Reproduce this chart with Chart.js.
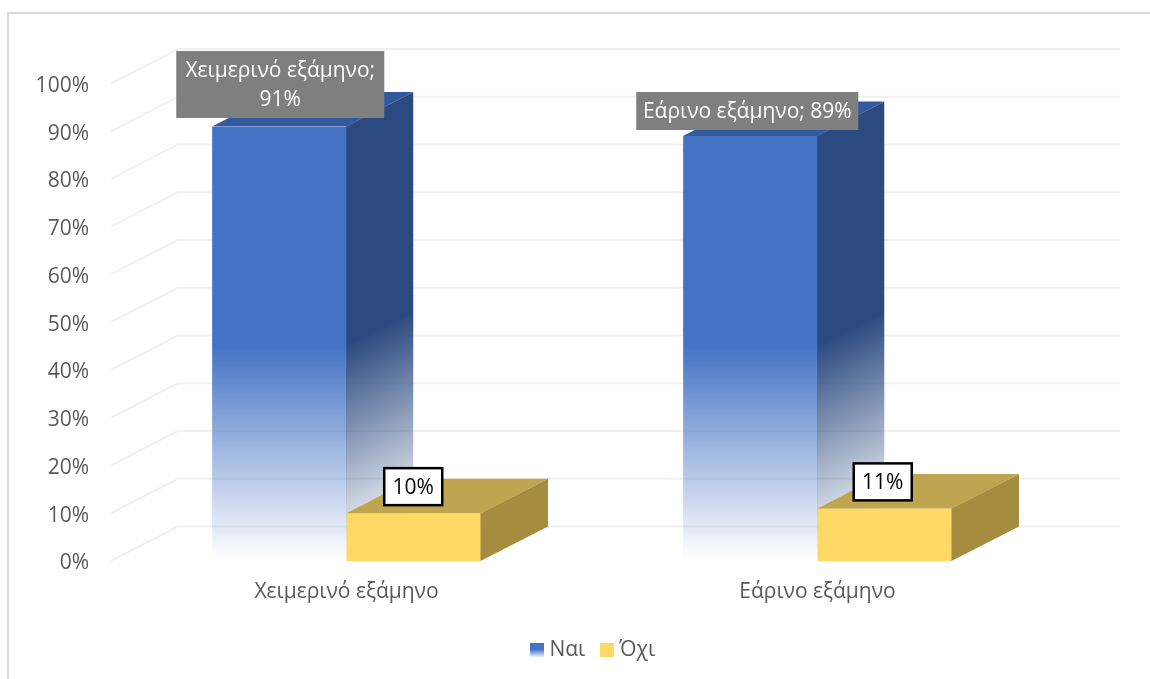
<!DOCTYPE html>
<html><head><meta charset="utf-8">
<style>html,body{margin:0;padding:0;background:#fff;overflow:hidden}canvas{display:block}</style>
<script src="https://cdn.jsdelivr.net/npm/chart.js@4"></script>
</head><body><div style="position:relative;width:1150px;height:679px"><canvas id="c" width="1150" height="679"></canvas></div>
<script>
const categories = ['Χειμερινό εξάμηνο', 'Εάρινο εξάμηνο'];
const seriesNames = ['Ναι', 'Όχι'];
const yesValues = [91, 89];
const noValues = [10, 11];
const yesLabels = [['Χειμερινό εξάμηνο;', '91%'], ['Εάρινο εξάμηνο; 89%']];
const noLabels = ['10%', '11%'];

const FONT = '"Open Sans","Noto Sans",sans-serif';
const DX = 67, DY = 34.5;
const GRID = '#F0F0F0', TEXT = '#595959';

function fade(ctx, r, g1, b, maxA, y0, y1) {
  const g = ctx.createLinearGradient(0, y0, 0, y1);
  g.addColorStop(0, `rgba(${r},${g1},${b},${maxA})`);
  g.addColorStop(1, `rgba(${r},${g1},${b},0)`);
  return g;
}
function box3d(ctx, bar, topColor, sideColor) {
  const l = bar.x - bar.width / 2, r = bar.x + bar.width / 2, t = bar.y, b = bar.base;
  ctx.save();
  ctx.beginPath();
  ctx.moveTo(r - 0.5, t); ctx.lineTo(r + DX, t - DY); ctx.lineTo(r + DX, b - DY); ctx.lineTo(r - 0.5, b); ctx.closePath();
  ctx.clip();
  const k = DY / DX;
  ctx.transform(1, -k, 0, 1, 0, r * k);   // shear so the gradient follows the depth
  ctx.fillStyle = sideColor;
  ctx.fillRect(r - 1, t - 5, DX + 1, b - t + 10);
  ctx.restore();
  ctx.beginPath();
  ctx.moveTo(l, t); ctx.lineTo(r, t); ctx.lineTo(r + DX, t - DY); ctx.lineTo(l + DX, t - DY); ctx.closePath();
  ctx.fillStyle = topColor; ctx.fill();
}

const threeD = {
  id: 'threeD',
  afterLayout(chart) {
    const lg = chart.legend;
    lg.left += 69; lg.right += 69;
    lg.top = 619; lg.bottom = 619 + lg.height;
    // the y labels sit slightly below the tick centre in the reference
    const y = chart.scales.y;
    if (!y._shifted) {
      const orig = y.drawLabels;
      y.drawLabels = function (area) {
        chart.ctx.save(); chart.ctx.translate(0, 2.5);
        orig.call(this, area);
        chart.ctx.restore();
      };
      y._shifted = true;
    }
  },
  beforeDatasetsDraw(chart) {
    const ctx = chart.ctx, y = chart.scales.y, a = chart.chartArea;
    ctx.save();
    ctx.strokeStyle = '#D9D9D9'; ctx.lineWidth = 2;
    ctx.beginPath(); ctx.moveTo(8, 679); ctx.lineTo(8, 13); ctx.lineTo(1150, 13); ctx.stroke();
    ctx.strokeStyle = GRID; ctx.lineWidth = 2;
    y.ticks.forEach((t, i) => {
      const py = y.getPixelForTick(i);
      ctx.beginPath();
      ctx.moveTo(a.left, py); ctx.lineTo(a.left + DX, py - DY); ctx.lineTo(a.right + DX, py - DY);
      ctx.stroke();
    });
    chart.getDatasetMeta(0).data.forEach(bar => {
      box3d(ctx, bar, '#335A9E', fade(ctx, 43, 74, 128, 1, 345, 560));
    });
    ctx.restore();
  },
  afterDatasetsDraw(chart) {
    const ctx = chart.ctx;
    ctx.save();
    chart.getDatasetMeta(1).data.forEach(bar => box3d(ctx, bar, '#BFA54F', '#A58C3F'));
    ctx.textAlign = 'center'; ctx.textBaseline = 'middle';
    ctx.font = '21px ' + FONT;
    chart.getDatasetMeta(0).data.forEach((bar, i) => {
      const lines = yesLabels[i];
      const w = i === 0 ? 208 : 222, h = lines.length === 2 ? 67 : 38;
      const cx = bar.x + (i === 0 ? 1 : -3), cy = bar.y - (lines.length === 2 ? 42 : 25);
      ctx.fillStyle = '#7F7F7F';
      ctx.fillRect(cx - w / 2, cy - h / 2, w, h);
      ctx.fillStyle = '#FFFFFF';
      lines.forEach((s, k) => ctx.fillText(s, cx, cy + 1 + (k - (lines.length - 1) / 2) * 29));
    });
    chart.getDatasetMeta(1).data.forEach((bar, i) => {
      const w = 58, h = 37, cx = bar.x - (i === 0 ? 0.5 : 2), cy = bar.y - 26.5;
      ctx.fillStyle = '#FFFFFF';
      ctx.fillRect(cx - w / 2, cy - h / 2, w, h);
      ctx.strokeStyle = '#000000'; ctx.lineWidth = 2.5;
      ctx.strokeRect(cx - w / 2, cy - h / 2, w, h);
      ctx.fillStyle = '#000000';
      ctx.fillText(noLabels[i], cx, cy + 1);
    });
    ctx.restore();
  }
};

const cv = document.getElementById('c');
const c2 = cv.getContext('2d');

function swatch(paint) {
  const s = document.createElement('canvas');
  s.width = 14; s.height = 14;
  paint(s.getContext('2d'));
  return s;
}
const swatchYes = swatch(g => {
  const f = g.createLinearGradient(0, 0, 0, 14);
  f.addColorStop(0, '#4472C4'); f.addColorStop(0.45, '#4472C4'); f.addColorStop(1, 'rgba(68,114,196,0.1)');
  g.fillStyle = f; g.fillRect(0, 0, 14, 14);
});
const swatchNo = swatch(g => { g.fillStyle = '#FFD966'; g.fillRect(0, 0, 14, 14); });

new Chart(cv, {
  type: 'bar',
  data: {
    labels: categories,
    datasets: [
      {label: seriesNames[0], data: yesValues, backgroundColor: fade(c2, 68, 114, 196, 1, 345, 560), borderColor: fade(c2, 68, 114, 196, 0.9, 345, 560), borderWidth: {left: 1, right: 0}},
      {label: seriesNames[1], data: noValues, backgroundColor: '#FFD966', borderWidth: 0}
    ]
  },
  plugins: [threeD],
  options: {
    responsive: false, animation: false,
    layout: {padding: {left: 0, right: 97, top: 83.5, bottom: 0}},
    datasets: {bar: {categoryPercentage: 0.571, barPercentage: 1}},
    scales: {
      x: {
        grid: {display: false}, border: {display: false},
        ticks: {color: TEXT, font: {size: 21, family: FONT}, padding: 11, maxRotation: 0},
        afterFit(s) { s.height = 66.6; }
      },
      y: {
        min: 0, max: 100,
        grid: {display: false}, border: {display: false},
        ticks: {stepSize: 10, color: TEXT, font: {size: 21, family: FONT}, padding: 14, callback: v => v + '%'},
        afterFit(s) { s.width = 111; }
      }
    },
    plugins: {
      tooltip: {enabled: false},
      legend: {
        display: true, position: 'bottom',
        labels: {
          color: TEXT, font: {size: 21, family: FONT}, usePointStyle: true, pointStyleWidth: 3, boxHeight: 14, padding: 20.5,
          generateLabels: () => [
            {text: seriesNames[0], pointStyle: swatchYes, fillStyle: '#4472C4', strokeStyle: 'transparent', lineWidth: 0, fontColor: TEXT, datasetIndex: 0},
            {text: seriesNames[1], pointStyle: swatchNo, fillStyle: '#FFD966', strokeStyle: 'transparent', lineWidth: 0, fontColor: TEXT, datasetIndex: 1}
          ]
        }
      }
    }
  }
});
</script></body></html>
